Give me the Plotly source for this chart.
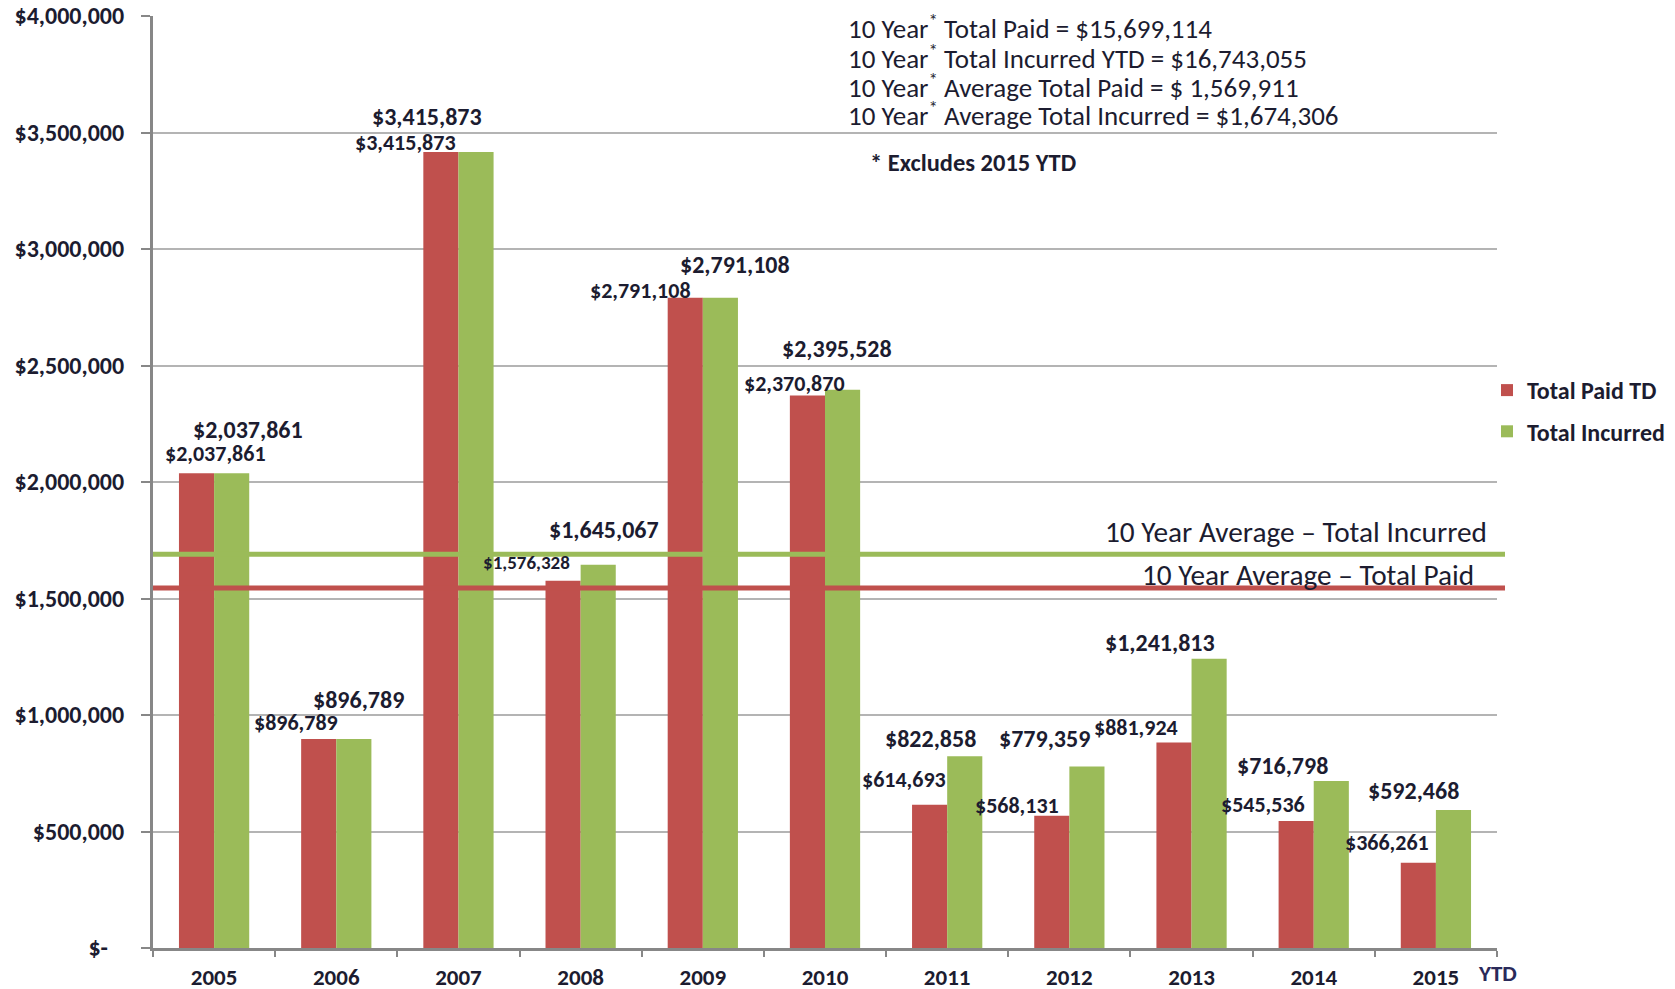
import plotly.graph_objects as go

# ---------------- data ----------------
years = ["2005", "2006", "2007", "2008", "2009", "2010", "2011", "2012", "2013", "2014", "2015"]
total_paid = [2037861, 896789, 3415873, 1576328, 2791108, 2370870, 614693, 568131, 881924, 545536, 366261]
total_incurred = [2037861, 896789, 3415873, 1645067, 2791108, 2395528, 822858, 779359, 1241813, 716798, 592468]
avg_incurred_line = 1690000
avg_paid_line = 1545000
y_tick_values = [0, 500000, 1000000, 1500000, 2000000, 2500000, 3000000, 3500000, 4000000]
y_tick_labels = ["$-\u00a0\u00a0\u00a0", "$500,000", "$1,000,000", "$1,500,000", "$2,000,000",
                 "$2,500,000", "$3,000,000", "$3,500,000", "$4,000,000"]
summary_lines = [
    "10 Year<sup>*</sup> Total Paid = $15,699,114",
    "10 Year<sup>*</sup> Total Incurred YTD = $16,743,055",
    "10 Year<sup>*</sup> Average Total Paid = $ 1,569,911",
    "10 Year<sup>*</sup> Average Total Incurred = $1,674,306",
]
footnote = "* Excludes 2015 YTD"
avg_incurred_label = "10 Year Average \u2013 Total Incurred"
avg_paid_label = "10 Year Average \u2013 Total Paid"

# ---------------- style ----------------
RED = "#C0504D"
GREEN = "#9BBB59"
AXIS = "#878787"
GRID = "#B4B4B4"
TXT = "#1c1c30"
FONT = "Calibri, Carlito, 'Liberation Sans', Arial, sans-serif"

W, H = 1675, 989
L, R, T, B = 153, 1497, 16, 948

def px2x(px):
    return (px - L) / (R - L)

def px2y(py):
    return (B - py) / (B - T)

# label offsets in pixels (style only)
paid_dx = [1, -40, -53, -54, -62, -31, -43, -52, -56, -51, -49]
paid_dy = [20, 17, 10, 18, 7, 12, 25, 10, 15, 16, 20]
paid_fs = [22, 22, 22, 19, 22, 22, 22, 22, 22, 22, 22]
inc_dx = [34, 22, -31, 23, 32, 12, -17, -25, -32, -31, -22]
inc_dy = [44, 40, 36, 35, 33, 41, 18, 28, 16, 15, 19]
inc_fs = 24

fig = go.Figure()
fig.add_trace(go.Bar(x=years, y=total_paid, name="Total Paid TD",
                     marker=dict(color=RED, line=dict(width=0)), legendgroup="a"))
fig.add_trace(go.Bar(x=years, y=total_incurred, name="Total Incurred",
                     marker=dict(color=GREEN, line=dict(width=0)), legendgroup="b"))

annotations = []
for i, yr in enumerate(years):
    # x given as the category index on the category axis
    annotations.append(dict(x=i, y=total_paid[i], xref="x", yref="y",
                            text=f"${total_paid[i]:,}", showarrow=False,
                            xshift=paid_dx[i], yshift=paid_dy[i], yanchor="middle",
                            font=dict(family=FONT, size=paid_fs[i], color=TXT, weight="bold")))
    annotations.append(dict(x=i, y=total_incurred[i], xref="x", yref="y",
                            text=f"${total_incurred[i]:,}", showarrow=False,
                            xshift=inc_dx[i], yshift=inc_dy[i], yanchor="middle",
                            font=dict(family=FONT, size=inc_fs, color=TXT, weight="bold")))

line_ys = [27, 57, 86, 114]
for txt, py in zip(summary_lines, line_ys):
    annotations.append(dict(x=px2x(846), y=px2y(py), xref="paper", yref="paper",
                            text=txt, showarrow=False, xanchor="left", yanchor="middle",
                            font=dict(family=FONT, size=27, color=TXT)))
annotations.append(dict(x=px2x(868), y=px2y(163), xref="paper", yref="paper",
                        text=footnote, showarrow=False, xanchor="left", yanchor="middle",
                        font=dict(family=FONT, size=24.5, color=TXT, weight="bold")))
annotations.append(dict(x=px2x(1296), y=px2y(532), xref="paper", yref="paper",
                        text=avg_incurred_label, showarrow=False, xanchor="center", yanchor="middle",
                        font=dict(family=FONT, size=29.3, color=TXT)))
annotations.append(dict(x=px2x(1308), y=px2y(575), xref="paper", yref="paper",
                        text=avg_paid_label, showarrow=False, xanchor="center", yanchor="middle",
                        font=dict(family=FONT, size=29.3, color=TXT)))
annotations.append(dict(x=px2x(1497), y=px2y(973), xref="paper", yref="paper",
                        text="YTD", showarrow=False, xanchor="center", yanchor="middle",
                        font=dict(family=FONT, size=23, color="#2a2a5a", weight="bold")))

shapes = [
    dict(type="line", xref="paper", yref="y", x0=0, x1=px2x(1505),
         y0=avg_incurred_line, y1=avg_incurred_line, line=dict(color=GREEN, width=5), layer="above"),
    dict(type="line", xref="paper", yref="y", x0=0, x1=px2x(1505),
         y0=avg_paid_line, y1=avg_paid_line, line=dict(color=RED, width=5), layer="above"),
]

fig.update_layout(
    width=W, height=H,
    margin=dict(l=L, r=W - R, t=T, b=H - B, autoexpand=False),
    paper_bgcolor="white", plot_bgcolor="white",
    barmode="group", bargap=0.425, bargroupgap=0,
    font=dict(family=FONT, color=TXT),
    annotations=annotations, shapes=shapes,
    legend=dict(x=px2x(1487), y=px2y(368), xanchor="left", yanchor="top",
                font=dict(family=FONT, size=24, color=TXT, weight="bold"),
                bgcolor="rgba(0,0,0,0)", tracegroupgap=7, itemwidth=30),
    xaxis=dict(type="category", range=[-0.5, len(years) - 0.5], autorange=False,
               showline=True, linecolor=AXIS, linewidth=3, ticks="outside",
               tickson="boundaries", ticklen=6, tickwidth=2, tickcolor=AXIS,
               showgrid=False, ticklabelstandoff=6,
               tickfont=dict(family=FONT, size=23, color=TXT, weight="bold")),
    yaxis=dict(range=[0, 4000000], autorange=False, tickvals=y_tick_values, ticktext=y_tick_labels,
               showline=True, linecolor=AXIS, linewidth=3, ticks="outside",
               ticklen=9, tickwidth=2, tickcolor=AXIS,
               showgrid=True, gridcolor=GRID, gridwidth=2, zeroline=False,
               ticklabelstandoff=12, ticklabeloverflow="allow",
               tickfont=dict(family=FONT, size=24, color=TXT, weight="bold")),
)

fig.write_html("out.html", config={"displayModeBar": False},
               post_script="document.body.style.margin='0px';document.body.style.overflow='hidden';")
